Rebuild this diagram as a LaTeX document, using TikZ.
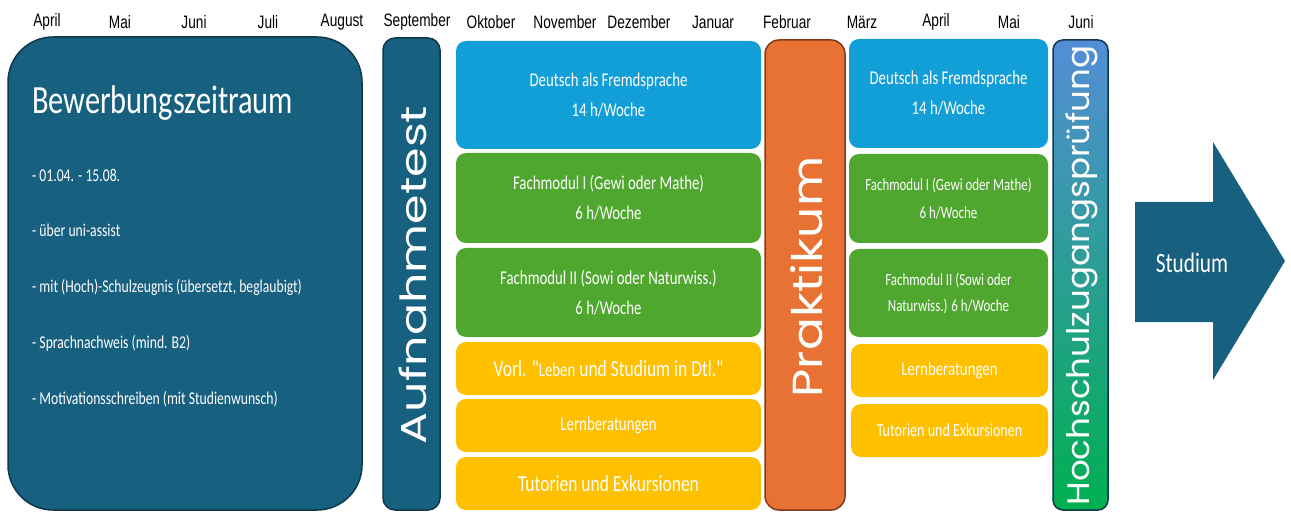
\documentclass[tikz,border=0pt]{standalone}
\usepackage{fontspec}
\newfontfamily\carl[FakeStretch=0.76]{Carlito}
\newfontfamily\mon[FakeStretch=0.76]{Liberation Sans}
\newfontfamily\rotA[FakeStretch=1.32]{Poppins}
\newfontfamily\rotB[FakeStretch=1.16]{Poppins}
\newfontfamily\rotC[FakeStretch=1.1]{Poppins}
\definecolor{teal}{RGB}{24,96,128}
\definecolor{tealdark}{RGB}{14,56,76}
\definecolor{cblue}{RGB}{18,158,214}
\definecolor{cgreen}{RGB}{80,167,48}
\definecolor{cyellow}{RGB}{255,192,0}
\definecolor{corange}{RGB}{232,113,52}
\definecolor{corangedark}{RGB}{130,58,24}
\definecolor{gtop}{RGB}{84,141,215}
\definecolor{gbot}{RGB}{0,176,80}
\tikzset{
  box/.style={rounded corners=10pt, inner sep=0pt, text=white, align=center},
  month/.style={font={\mon\fontsize{18}{20}\selectfont}, inner sep=0pt, anchor=center},
  bullet/.style={font={\carl\fontsize{18}{20}\selectfont}, text=white, anchor=west, inner sep=0pt},
  rtext/.style={rotate=90, text=white, inner sep=0pt},
}
\begin{document}
\begin{tikzpicture}[x=1pt,y=-1pt]
\useasboundingbox (0,0) rectangle (1291,513);
% month labels
\foreach \m/\x [count=\i] in {April/47,Mai/120,Juni/194,Juli/268,August/342,September/417,Oktober/491,November/565,Dezember/639,Januar/713,Februar/787,März/862,April/936,Mai/1009,Juni/1081}
  \node[month] (m\i) at (\x,22) {\m};
% Bewerbungszeitraum
\node[box, rounded corners=45pt, fill=teal, draw=tealdark, line width=1.5pt, minimum width=354pt, minimum height=473pt] (bew) at (185,273.5) {};
\node[font={\carl\fontsize{40}{44}\selectfont}, text=white, anchor=west, inner sep=0pt] (bewt) at (32,103) {Bewerbungszeitraum};
\node[bullet] (b1) at (32,175) {- 01.04. - 15.08.};
\node[bullet] (b2) at (32,230) {- über uni-assist};
\node[bullet] (b3) at (32,287) {- mit (Hoch)-Schulzeugnis (übersetzt, beglaubigt)};
\node[bullet] (b4) at (32,343) {- Sprachnachweis (mind. B2)};
\node[bullet] (b5) at (32,399) {- Motivationsschreiben (mit Studienwunsch)};
% Aufnahmetest
\node[box, rounded corners=12pt, fill=teal, draw=tealdark, line width=1.5pt, minimum width=57pt, minimum height=472pt] (auf) at (411.5,274) {};
\node[rtext, font={\rotA\fontsize{36}{40}\selectfont}] (auft) at (413,275) {Aufnahmetest};
% left column
\node[box, fill=cblue, minimum width=305pt, minimum height=108pt, font={\carl\fontsize{19.5}{30}\selectfont}] (dl) at (608.5,95) {Deutsch als Fremdsprache\\14 h/Woche};
\node[box, fill=cgreen, minimum width=305pt, minimum height=90pt, font={\carl\fontsize{19.5}{30}\selectfont}] (f1l) at (608.5,198) {Fachmodul I (Gewi oder Mathe)\\6 h/Woche};
\node[box, fill=cgreen, minimum width=305pt, minimum height=89pt, font={\carl\fontsize{19.5}{30}\selectfont}] (f2l) at (608.5,292.5) {Fachmodul II (Sowi oder Naturwiss.)\\6 h/Woche};
\node[box, fill=cyellow, minimum width=305pt, minimum height=53pt, font={\carl\fontsize{23}{26}\selectfont}] (vl) at (608.5,368.5) {Vorl. "{\fontsize{19.5}{26}\selectfont Leben} und Studium in Dtl."};
\node[box, fill=cyellow, minimum width=305pt, minimum height=53pt, font={\carl\fontsize{19.5}{26}\selectfont}] (ll) at (608.5,425.5) {Lernberatungen};
\node[box, fill=cyellow, minimum width=305pt, minimum height=53pt, font={\carl\fontsize{23}{26}\selectfont}] (tl) at (608.5,483.5) {Tutorien und Exkursionen};
% Praktikum
\node[box, rounded corners=14pt, fill=corange, draw=corangedark, line width=1.5pt, minimum width=80pt, minimum height=470pt] (pr) at (805,275) {};
\node[rtext, font={\rotB\fontsize{42}{46}\selectfont}] (prt) at (807,277) {Praktikum};
% right column
\node[box, fill=cblue, minimum width=199pt, minimum height=109pt, font={\carl\fontsize{19.5}{30}\selectfont}] (dr) at (948.5,93.5) {Deutsch als Fremdsprache\\14 h/Woche};
\node[box, fill=cgreen, minimum width=199pt, minimum height=89pt, font={\carl\fontsize{17}{28}\selectfont}] (f1r) at (948.5,198.5) {Fachmodul I (Gewi oder Mathe)\\6 h/Woche};
\node[box, fill=cgreen, minimum width=199pt, minimum height=88pt, font={\carl\fontsize{17}{26}\selectfont}] (f2r) at (948.5,293) {Fachmodul II (Sowi oder\\Naturwiss.) 6 h/Woche};
\node[box, fill=cyellow, minimum width=197pt, minimum height=53pt, font={\carl\fontsize{19.5}{26}\selectfont}] (lr) at (949.5,370.5) {Lernberatungen};
\node[box, fill=cyellow, minimum width=197pt, minimum height=53pt, font={\carl\fontsize{18.5}{26}\selectfont}] (tr) at (949.5,430.5) {Tutorien und Exkursionen};
% Hochschulzugangspruefung
\node[box, rounded corners=10pt, top color=gtop, bottom color=gbot, draw=tealdark, line width=1.5pt, minimum width=55pt, minimum height=470pt] (hz) at (1080.5,275) {};
\node[rtext, font={\rotC\fontsize{31}{34}\selectfont}] (hzt) at (1082,275.5) {Hochschulzugangsprüfung};
% Studium arrow
\fill[teal] (1135,202) -- (1213,202) -- (1213,142) -- (1285,261) -- (1213,380) -- (1213,322) -- (1135,322) -- cycle;
\node[font={\carl\fontsize{28}{30}\selectfont}, text=white, inner sep=0pt] (st) at (1192,263) {Studium};
\end{tikzpicture}
\end{document}
